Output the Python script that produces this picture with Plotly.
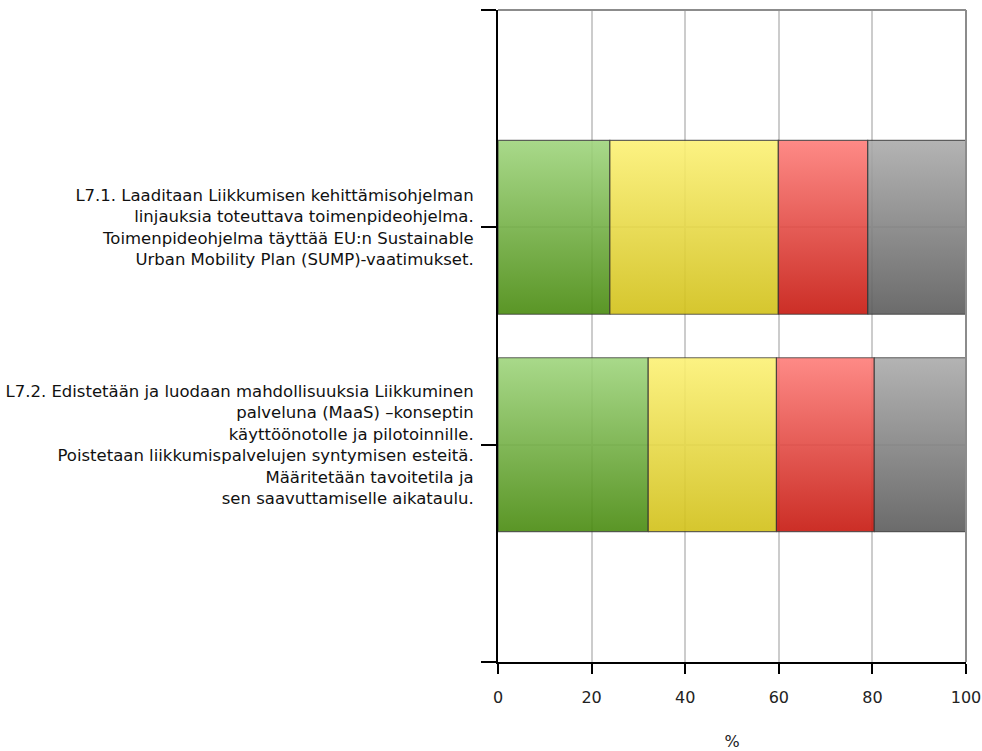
import plotly.graph_objects as go

# Statements (top to bottom) and their answer shares in percent
categories = [
    "L7.1. Laaditaan Liikkumisen kehittämisohjelman<br>"
    "linjauksia toteuttava toimenpideohjelma.<br>"
    "Toimenpideohjelma täyttää EU:n Sustainable<br>"
    "Urban Mobility Plan (SUMP)-vaatimukset.",
    "L7.2. Edistetään ja luodaan mahdollisuuksia Liikkuminen<br>"
    "palveluna (MaaS) –konseptin<br>"
    "käyttöönotolle ja pilotoinnille.<br>"
    "Poistetaan liikkumispalvelujen syntymisen esteitä.<br>"
    "Määritetään tavoitetila ja<br>"
    "sen saavuttamiselle aikataulu.",
]
green_vals = [23.9, 32.1]
yellow_vals = [36.0, 27.4]
red_vals = [19.1, 20.9]
gray_vals = [21.0, 19.6]
x_ticks = [0, 20, 40, 60, 80, 100]

series = [
    ("green", green_vals, "rgba(72,138,14,0.9)", "rgba(159,213,125,0.9)"),
    ("yellow", yellow_vals, "rgba(209,192,23,0.9)", "rgba(252,241,117,0.9)"),
    ("red", red_vals, "rgba(198,23,14,0.9)", "rgba(254,125,121,0.9)"),
    ("gray", gray_vals, "rgba(91,91,91,0.9)", "rgba(171,171,171,0.9)"),
]

n = len(categories)
positions = [n - i for i in range(n)]  # first statement on top
half = 0.4  # half bar thickness in axis units

fig = go.Figure()
for ci, pos in enumerate(positions):
    left = 0.0
    for name, vals, dark, light in series:
        right = left + vals[ci]
        fig.add_trace(go.Scatter(
            x=[left, right, right, left, left],
            y=[pos - half, pos - half, pos + half, pos + half, pos - half],
            mode="lines",
            fill="toself",
            fillgradient=dict(type="vertical", colorscale=[[0, dark], [1, light]]),
            line=dict(color="rgba(50,50,50,0.75)", width=1.2),
            name=name,
            showlegend=False,
            hoverinfo="skip",
        ))
        left = right

font = dict(family="DejaVu Sans, Verdana, sans-serif", size=16.5, color="#111111")

fig.update_layout(
    width=982,
    height=751,
    margin=dict(l=498, r=16, t=10, b=89),
    paper_bgcolor="white",
    plot_bgcolor="white",
    font=font,
    showlegend=False,
    xaxis=dict(
        range=[0, 100],
        tickvals=x_ticks,
        ticktext=[str(v) for v in x_ticks],
        tickfont=dict(size=16, color="#222222"),
        showgrid=True,
        gridcolor="#cccccc",
        gridwidth=1.5,
        zeroline=False,
        showline=True,
        linecolor="black",
        linewidth=2,
        ticks="outside",
        ticklen=10,
        tickwidth=2,
        tickcolor="black",
        ticklabelstandoff=10,
        title=dict(text="%", font=dict(size=16, color="#222222"), standoff=30),
        automargin=False,
        fixedrange=True,
    ),
    yaxis=dict(
        range=[0, n + 1],
        tickvals=[0] + positions[::-1] + [n + 1],
        ticktext=[""] + categories[::-1] + [""],
        showgrid=True,
        gridcolor="#cccccc",
        gridwidth=1.5,
        zeroline=False,
        showline=True,
        linecolor="black",
        linewidth=2,
        ticks="outside",
        ticklen=15,
        tickwidth=2,
        tickcolor="black",
        ticklabelstandoff=4,
        automargin=False,
        fixedrange=True,
    ),
    shapes=[
        dict(type="line", xref="x domain", yref="y domain", x0=0, x1=1, y0=1, y1=1,
             line=dict(color="#8c8c8c", width=2)),
        dict(type="line", xref="x domain", yref="y domain", x0=1, x1=1, y0=0, y1=1,
             line=dict(color="#8c8c8c", width=2)),
    ],
)

fig.write_html("out.html")
